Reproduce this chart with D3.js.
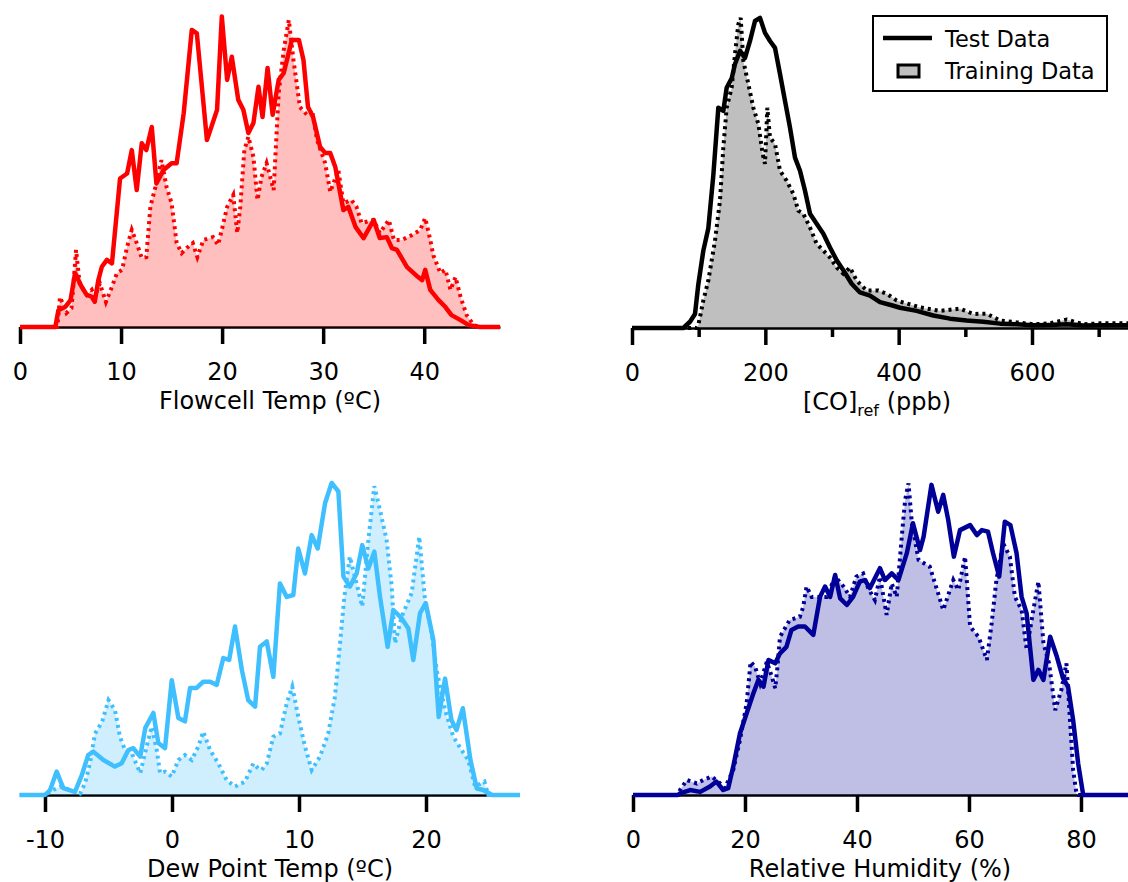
<!DOCTYPE html>
<html>
<head>
<meta charset="utf-8">
<script src="https://cdn.jsdelivr.net/npm/d3@7"></script>
<style>
  html, body { margin: 0; padding: 0; background: #fff; }
  svg { display: block; font-family: "DejaVu Sans", Verdana, sans-serif; }
  .axis path, .axis line { stroke: #000; }
  .axis text { fill: #000; font-size: 24px; font-family: "DejaVu Sans", sans-serif; }
</style>
</head>
<body>
<svg id="chart" width="1128" height="882"></svg>
<script>
// Four histograms: test data (solid) vs training data (dotted + filled).
// Values are relative frequency, peak of each panel ~100.

const flowTest = [[0,0],[3.5,0],[3.8,5.4],[4.5,6.5],[5.0,8.6],[5.45,17.3],[6.1,12.9],[6.6,10.3],[7.1,9.7],[7.4,8.1],[7.75,15],[8.1,19.3],[8.6,21.5],[9.1,20.4],[9.9,47.6],[10.6,49.2],[11.06,56.7],[11.55,43.9],[12.05,58.9],[12.5,56.7],[13.04,64.1],[13.5,46],[14.2,50.3],[15.0,52.5],[15.5,52.5],[16.2,68.5],[17.0,95.2],[17.5,94.1],[18.5,59.9],[19.5,69.6],[19.97,99.5],[20.5,79.2],[20.96,86.6],[21.6,72.8],[22.1,69.6],[22.6,62.2],[23.1,65.4],[23.6,77],[24.0,67.3],[24.5,83],[25.0,68],[25.6,79.2],[26.1,81.4],[26.9,92],[27.6,92],[28.05,85.6],[28.5,70.5],[29.0,67.3],[29.7,57.7],[30.2,55.8],[30.7,55.8],[31.2,51.3],[32.0,37.5],[32.5,38.5],[33.2,32.1],[34.0,28.5],[35.0,34.3],[35.6,28.5],[36.3,28.8],[36.8,25.3],[37.3,24.7],[38.3,19.2],[39.4,16],[39.8,15],[40.1,18.3],[40.6,11.9],[41.4,8.7],[42.1,6.4],[42.7,3.8],[43.6,2.2],[44.4,0.6],[45.5,0],[47.5,0]];
const flowTrain = [[0,0],[3.7,0],[3.96,9.6],[4.6,4.5],[5.1,6.1],[5.55,24.7],[5.9,14],[6.6,10.3],[7.1,11.9],[7.4,9.6],[7.9,14],[8.5,8],[9.1,12.9],[9.6,17.3],[10.1,18.3],[10.6,25.7],[11.06,31.1],[11.55,26.9],[12.05,22.1],[12.5,22.4],[12.9,38.5],[13.4,44.9],[14.0,53.5],[14.5,44.9],[15.0,39.7],[15.5,26.9],[16.0,23.7],[16.5,25.3],[17.1,26.9],[17.55,22.4],[18.15,27.9],[19.1,28.8],[19.6,26.3],[19.97,31.1],[20.5,38.5],[21.1,42.3],[21.5,30.1],[21.8,38.5],[22.2,56.7],[22.6,61],[23.1,54.5],[23.5,40.7],[23.9,48.1],[24.4,52.5],[25.1,43.9],[25.6,75],[26.1,88.8],[26.6,98.4],[27.06,85.6],[27.7,70.5],[28.4,68],[28.9,69.6],[29.4,59.9],[30.2,52.5],[30.7,43.3],[31.5,50.3],[32.0,39.7],[32.8,40.7],[33.3,38.5],[33.8,33.3],[35.0,34.3],[35.6,30.1],[36.5,34.3],[37.0,27.9],[37.8,27.9],[38.8,29.5],[39.6,31.1],[40.1,34.9],[40.6,27.9],[40.9,23],[41.6,17.3],[42.1,18.3],[42.6,11.9],[43.1,16],[43.6,9.6],[44.2,3.8],[44.9,0.6],[45.5,0],[47.5,0]];

const coTest = [[0,0],[77,0],[87,2],[94.5,4.5],[99.5,14],[107,24.8],[114.5,32],[122,49],[129.5,70.6],[137,69.6],[142,77],[149.5,80],[154.5,84.6],[162,88.8],[169.5,86.6],[177,92],[184.5,98.4],[192,99.4],[199.5,94.6],[207,92],[214.5,89.8],[222,81.4],[229.5,72.8],[237,64.2],[244.5,54.6],[252,50.4],[259.5,44],[267,36.6],[277,33.4],[287,30.2],[297,25.8],[307,21.7],[317,18.5],[329.5,14.2],[342,11.4],[357,10.4],[372,8.3],[389.5,7.3],[402,6.5],[427,5.5],[452,4],[477,3],[502,2.4],[527,2],[552,1.4],[577,1.2],[602,0.9],[627,1],[652,1.2],[677,0.8],[702,0.9],[744,0.9]];
const coTrain = [[0,0],[97,0],[99.5,0.9],[107,8.8],[114.5,15.2],[124.5,28],[132,40.8],[137,57.8],[142,70.6],[149.5,77],[154.5,87.8],[159.5,97.4],[163,99.4],[167,85.6],[174.5,78.2],[182,70.6],[189.5,65.4],[196,55.8],[199.5,52.6],[203,70.6],[207,61],[214.5,59],[222,50.4],[232,47.2],[242,43],[249.5,37.6],[257,36.6],[267,32.2],[277,27],[287,24.8],[297,22.6],[307,19.4],[317,17.4],[327,19.4],[337,15.2],[352,12],[369.5,12],[382,11],[397,8.8],[432,6.6],[462,5.5],[492,6.2],[512,4.5],[532,4.6],[552,2.4],[577,1.8],[602,1.2],[627,1.5],[652,2.7],[677,1.2],[702,1.5],[744,1.5]];

const dewTest = [[-12,0],[-10,0],[-9.6,1.6],[-9.08,7.5],[-8.56,2.2],[-7.64,1],[-7.1,6.4],[-6.6,12.8],[-6.2,13.9],[-5.4,11.2],[-4.5,9.1],[-3.96,10.2],[-3.44,14.4],[-3.05,15],[-2.5,12.3],[-2.1,21.5],[-1.47,26.3],[-1.08,16.7],[-0.55,15],[-0.02,36.8],[0.5,24.7],[1.02,23.6],[1.42,34.3],[1.94,34.3],[2.46,36.3],[3.0,36.3],[3.52,35.3],[4.04,43.9],[4.5,43.3],[4.96,54],[5.5,40.1],[6.0,30.4],[6.54,28.3],[6.93,47.5],[7.46,49.2],[7.98,37.9],[8.5,67.8],[9.03,63.5],[9.55,64.1],[9.94,79],[10.47,71],[11.0,83.3],[11.47,79],[12.05,93.5],[12.57,100],[13.1,97.3],[13.5,70],[14.0,66.8],[14.54,71],[14.98,80.1],[15.46,72.6],[15.93,78],[16.38,63.5],[16.98,47.5],[17.43,59.3],[18.09,56.6],[18.61,53.4],[19.0,43.3],[19.53,58.3],[19.98,61.5],[20.58,49.7],[21.0,25],[21.5,37.3],[22.0,24],[22.4,20.8],[22.9,27.8],[23.5,11.2],[24.0,2.1],[24.5,1.6],[25.2,0],[27.4,0]];
const dewTrain = [[-12,0],[-10,0],[-9.35,1.6],[-8.8,2.7],[-7.24,0.5],[-6.85,3.7],[-6.46,10.1],[-6.06,19.7],[-5.5,23.5],[-5.0,30.4],[-4.49,27.2],[-4.1,18.7],[-3.7,14.4],[-3.17,13.4],[-2.5,7],[-2.0,15.5],[-1.6,21.9],[-1.2,14.4],[-0.94,7],[-0.55,7.5],[-0.02,5.9],[0.5,11.2],[1.02,12.8],[1.55,11.2],[2.07,15.5],[2.46,20.3],[3.0,14.4],[3.65,10.1],[4.3,4.8],[4.96,2.7],[5.75,4.3],[6.4,10.1],[6.8,8.5],[7.06,8],[7.46,10.1],[7.98,18.7],[8.5,19.7],[9.03,29.3],[9.47,34.7],[9.94,25.1],[10.47,15.5],[11.0,8],[11.65,12.3],[12.3,19.7],[12.83,31.5],[13.23,48.6],[13.57,63.5],[14.0,76.4],[14.4,70],[14.98,60.4],[15.46,81.7],[15.93,99],[16.38,91.3],[16.9,81.7],[17.3,66.8],[17.56,48.6],[18.09,57.2],[18.87,64.7],[19.47,82.8],[19.92,62.5],[20.45,51.8],[20.84,40],[21.5,27.2],[22.15,18.7],[22.8,14.4],[23.33,11.2],[23.86,2.7],[24.6,4.3],[24.9,0],[27.4,0]];

const rhTest = [[0,0],[8,0],[8.4,0.5],[10.2,1.6],[12.0,1],[13.75,2.7],[14.9,4.3],[16.1,1.6],[17.0,2.2],[17.9,9.1],[19.1,19.7],[20.3,26.2],[21.5,32.6],[22.4,36.9],[23.3,34.7],[24.2,43.3],[25.4,42.2],[26.25,45.4],[27.4,47.5],[28.3,52.9],[29.5,54],[30.7,54],[32.2,51.3],[33.4,63.5],[34.3,66.8],[35.2,63.5],[36.1,70.5],[37.0,63],[38.2,60.9],[39.3,63.5],[40.5,68.4],[41.4,68.9],[42.3,66.3],[44.1,72.7],[45.0,68.9],[46.2,71],[47.4,68.9],[48.9,77.5],[50.0,87.1],[51.25,78.5],[51.9,82.8],[53.3,99.4],[54.5,90.8],[55.4,96.2],[56.3,88.1],[57.3,76.4],[58.4,84.9],[60.2,86.5],[61.4,83.3],[62.3,84.9],[63.4,84.4],[64.3,77.5],[65.4,70],[66.4,87.6],[67.4,86.5],[68.5,77.5],[69.4,63.5],[70.3,58.2],[71.5,36.9],[72.4,40.1],[73.3,36.9],[74.5,50.7],[75.7,44.3],[76.8,37.4],[77.7,34.7],[78.6,24],[79.5,10.1],[80.4,0],[88.4,0]];
const rhTrain = [[0,0],[8,0],[8.4,1.6],[9.6,4.8],[11.4,3.7],[12.55,4.8],[14.05,5.9],[15.2,4.3],[16.4,2.2],[17.9,8],[19.1,17.6],[20.3,29.4],[21.0,42.7],[21.8,41.1],[22.7,35.8],[23.9,42.7],[24.8,37.9],[25.4,34.2],[25.8,41.1],[26.25,50.7],[28.0,56.1],[29.8,57.1],[30.4,60.3],[31.0,66.8],[31.9,63.5],[33.4,63.5],[34.6,63.5],[36.1,70],[37.6,66.8],[38.75,63.5],[39.9,70],[41.1,71],[42.0,66.3],[43.2,62.5],[44.1,70],[45.3,57.7],[46.2,67.8],[47.1,63.5],[48.0,82.8],[48.6,94.6],[49.2,99.9],[49.8,87.1],[51.0,75.3],[53.0,73.2],[54.5,64.6],[55.4,59.3],[56.6,65.7],[57.2,68.9],[58.1,65.7],[59.3,76.4],[60.2,54],[61.7,50.7],[63.2,43.3],[64.05,55],[64.9,68.9],[66.1,80.7],[67.3,76.4],[68.2,63.5],[69.4,59.3],[70.3,46.5],[71.5,59.3],[72.4,68.4],[73.3,48.6],[74.3,42.2],[75.4,27.2],[76.5,33.7],[77.4,42.2],[78.0,25.1],[78.6,8],[79.2,0.5],[79.5,0],[88.4,0]];

const flowTicks = [0, 10, 20, 30, 40];
const coTicks = [0, 200, 400, 600];
const coMinorTicks = [100, 300, 500, 700];
const dewTicks = [-10, 0, 10, 20];
const rhTicks = [0, 20, 40, 60, 80];

const legendLabels = ["Test Data", "Training Data"];

const panels = [
  { test: flowTest, train: flowTrain, color: "#ff0000", domain: [0, 47.5], range: [20, 500],
    base: 327, ticks: flowTicks, title: "Flowcell Temp (\u00baC)", titleX: 270 },
  { test: coTest, train: coTrain, color: "#000000", domain: [0, 744], range: [632, 1128],
    base: 328, ticks: coTicks, minor: coMinorTicks, title: null, titleX: 877 },
  { test: dewTest, train: dewTrain, color: "#40bfff", domain: [-10, 25], range: [45, 489.5],
    base: 795, ticks: dewTicks, title: "Dew Point Temp (\u00baC)", titleX: 270 },
  { test: rhTest, train: rhTrain, color: "#000099", domain: [0, 88.4], range: [633, 1128],
    base: 795, ticks: rhTicks, title: "Relative Humidity (%)", titleX: 880 },
];

const svg = d3.select("#chart");
svg.append("rect").attr("width", 1128).attr("height", 882).attr("fill", "#fff");

panels.forEach((p) => {
  const x = d3.scaleLinear().domain(p.domain).range(p.range);
  const y = d3.scaleLinear().domain([0, 100]).range([p.base, p.base - 312]);
  const g = svg.append("g");

  // axis first so the coloured baseline sits on top of it
  const ax = g.append("g")
    .attr("class", "axis")
    .attr("transform", `translate(0,${p.base})`)
    .call(d3.axisBottom(x).tickValues(p.ticks).tickSize(17).tickSizeOuter(0).tickPadding(19).tickFormat(d3.format("d")));
  ax.select(".domain").attr("stroke-width", 2.5);
  ax.selectAll(".tick line").attr("stroke-width", 3.5);
  ax.selectAll(".tick text").text((d) => (d < 0 ? "-" + Math.abs(d) : d));

  if (p.minor) {
    const mx = g.append("g")
      .attr("class", "axis")
      .attr("transform", `translate(0,${p.base})`)
      .call(d3.axisBottom(x).tickValues(p.minor).tickSize(9).tickSizeOuter(0).tickFormat(""));
    mx.select(".domain").remove();
    mx.selectAll(".tick line").attr("stroke-width", 3.5);
  }

  const area = d3.area().x((d) => x(d[0])).y0(y(0)).y1((d) => y(d[1]));
  const line = d3.line().x((d) => x(d[0])).y((d) => y(d[1]));

  g.append("path").datum(p.train).attr("d", area)
    .attr("fill", p.color).attr("fill-opacity", 0.25).attr("stroke", "none");
  g.append("path").datum(p.train).attr("d", line)
    .attr("fill", "none").attr("stroke", p.color).attr("stroke-width", 4)
    .attr("stroke-dasharray", "3,4");
  g.append("path").datum(p.test).attr("d", line)
    .attr("fill", "none").attr("stroke", p.color).attr("stroke-width", 4.5)
    .attr("stroke-linejoin", "round");

  const t = g.append("text")
    .attr("x", p.titleX).attr("y", p.base + 82)
    .attr("text-anchor", "middle")
    .attr("font-size", 24)
    .attr("fill", "#000");
  if (p.title) {
    t.text(p.title);
  } else {
    t.append("tspan").text("[CO]");
    t.append("tspan").attr("font-size", 16).attr("dy", 6).text("ref");
    t.append("tspan").attr("dy", -6).text(" (ppb)");
  }
});

// legend (top-right panel)
const lg = svg.append("g");
lg.append("rect").attr("x", 873).attr("y", 16).attr("width", 234).attr("height", 75)
  .attr("fill", "#fff").attr("stroke", "#000").attr("stroke-width", 2);
lg.append("line").attr("x1", 883).attr("x2", 932).attr("y1", 38).attr("y2", 38)
  .attr("stroke", "#000").attr("stroke-width", 4.5);
lg.append("rect").attr("x", 898).attr("y", 65).attr("width", 21).attr("height", 12)
  .attr("fill", "#bfbfbf").attr("stroke", "#000").attr("stroke-width", 3);
lg.selectAll("text.lbl").data(legendLabels).join("text")
  .attr("class", "lbl")
  .attr("x", 945)
  .attr("y", (d, i) => 47 + i * 32)
  .attr("font-size", 22.5)
  .attr("fill", "#000")
  .text((d) => d);
</script>
</body>
</html>
